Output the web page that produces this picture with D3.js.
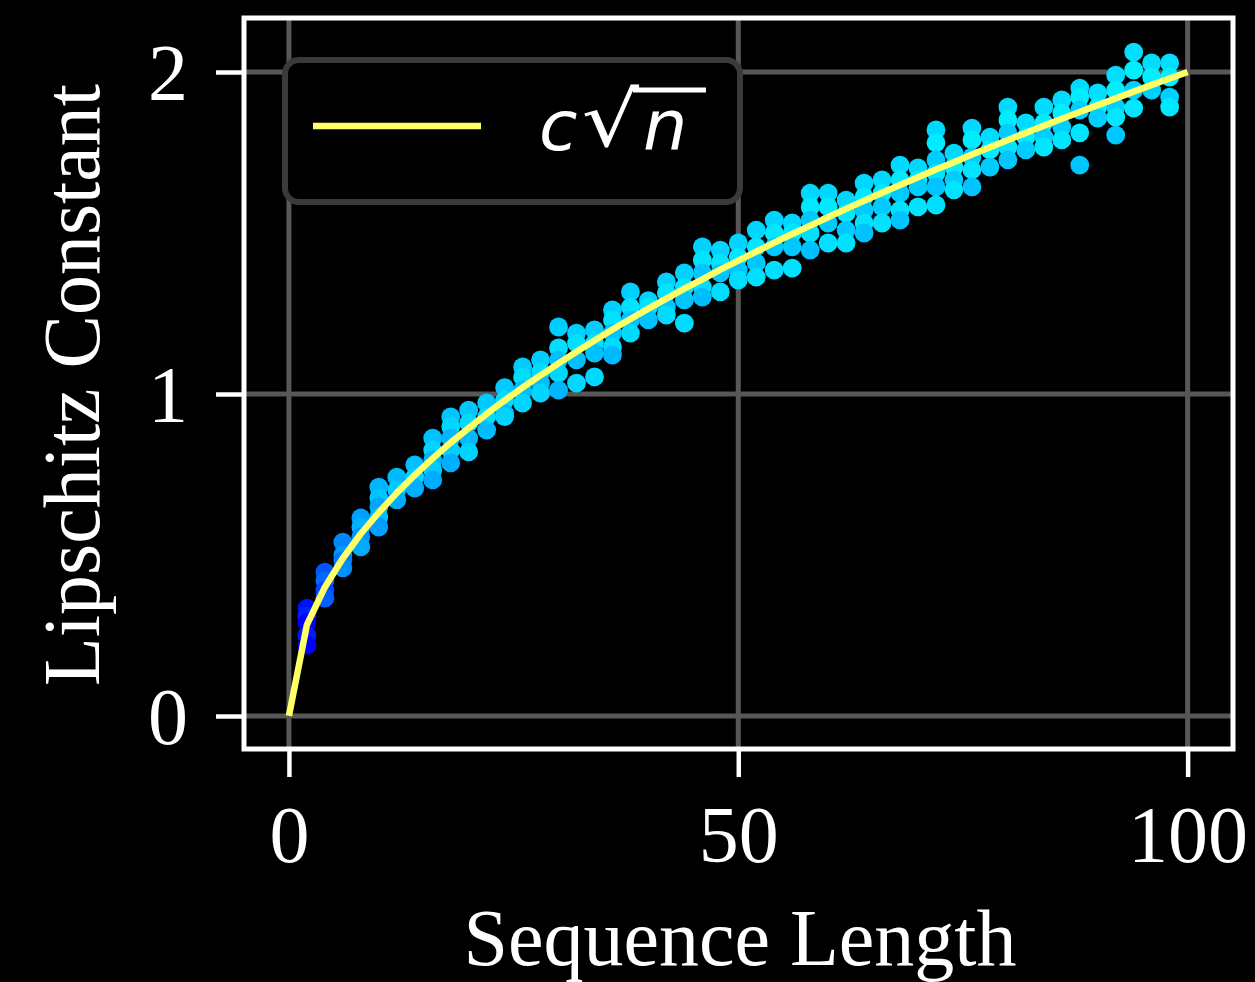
<!DOCTYPE html>
<html>
<head>
<meta charset="utf-8">
<script src="https://cdn.jsdelivr.net/npm/d3@7"></script>
<style>
  html, body { margin: 0; padding: 0; background: #000; }
  svg { display: block; }
</style>
</head>
<body>
<script>
// ---- data ----
const seqLengths = [2,4,6,8,10,12,14,16,18,20,22,24,26,28,30,32,34,36,38,40,42,44,46,48,50,
  52,54,56,58,60,62,64,66,68,70,72,74,76,78,80,82,84,86,88,90,92,94,96,98];
const lipschitz = [
  [0.335,0.31,0.29,0.25,0.22],
  [0.447,0.42,0.39,0.366],
  [0.54,0.50,0.484,0.46],
  [0.615,0.587,0.556,0.525],
  [0.711,0.677,0.649,0.618,0.587],
  [0.742,0.702,0.671],
  [0.78,0.742,0.708],
  [0.863,0.826,0.795,0.764,0.733],
  [0.929,0.898,0.863,0.826,0.786],
  [0.95,0.91,0.863,0.82],
  [0.972,0.929,0.888],
  [1.02,0.98,0.94,0.93],
  [1.084,1.053,1.012,0.972],
  [1.106,1.068,1.034,1.003],
  [1.208,1.143,1.106,1.065,1.012],
  [1.189,1.158,1.106,1.034],
  [1.199,1.158,1.127,1.053],
  [1.261,1.23,1.189,1.146,1.121],
  [1.317,1.27,1.23,1.189],
  [1.29,1.27,1.23],
  [1.348,1.314,1.27,1.245],
  [1.376,1.332,1.292,1.22],
  [1.457,1.416,1.376,1.332,1.301],
  [1.447,1.407,1.376,1.317],
  [1.469,1.425,1.385,1.354],
  [1.509,1.457,1.407,1.363],
  [1.54,1.5,1.457,1.385],
  [1.531,1.5,1.457,1.391],
  [1.624,1.581,1.54,1.5,1.447],
  [1.624,1.581,1.531,1.469],
  [1.602,1.562,1.509,1.469],
  [1.655,1.612,1.571,1.531,1.5],
  [1.665,1.624,1.581,1.531],
  [1.711,1.665,1.624,1.571,1.54],
  [1.702,1.665,1.643,1.581],
  [1.82,1.78,1.727,1.686,1.643,1.587],
  [1.748,1.705,1.665,1.634],
  [1.826,1.789,1.736,1.696,1.643],
  [1.798,1.758,1.705],
  [1.891,1.851,1.811,1.767,1.727],
  [1.842,1.798,1.758],
  [1.891,1.842,1.798,1.767],
  [1.913,1.873,1.829,1.789],
  [1.95,1.922,1.882,1.811,1.711],
  [1.935,1.891,1.857],
  [1.99,1.944,1.891,1.86,1.804],
  [2.062,2.006,1.944,1.888],
  [2.028,1.984,1.944],
  [2.028,1.984,1.922,1.891]
];
const fitN = [0,2,4,6,8,10,12,14,16,18,20,22,24,26,28,30,32,34,36,38,40,42,44,46,48,50,
  52,54,56,58,60,62,64,66,68,70,72,74,76,78,80,82,84,86,88,90,92,94,96,98,100];
const fitVals = [0,0.283,0.4,0.490,0.566,0.632,0.693,0.748,0.8,0.849,0.894,0.938,0.980,1.020,
  1.058,1.095,1.131,1.166,1.2,1.233,1.265,1.296,1.327,1.356,1.386,1.414,1.442,1.470,1.497,
  1.523,1.549,1.575,1.6,1.625,1.649,1.673,1.697,1.720,1.744,1.766,1.789,1.811,1.833,1.855,
  1.876,1.897,1.918,1.939,1.960,1.980,2.0];
const xTicks = [0, 50, 100];
const yTicks = [0, 1, 2];
const xLabel = "Sequence Length";
const yLabel = "Lipschitz Constant";

// ---- layout ----
const W = 1255, H = 982;
const frame = {left: 244, right: 1233, top: 18, bottom: 749};
const serif = "'Liberation Serif', 'Times New Roman', serif";

const svg = d3.select("body").append("svg").attr("width", W).attr("height", H)
  .style("background", "#000");

const x = d3.scaleLinear().domain([-5, 105.05]).range([frame.left, frame.right]);
const y = d3.scaleLinear().domain([-0.1025, 2.1677]).range([frame.bottom, frame.top]);

// grid
const grid = svg.append("g");
grid.selectAll("line.gx").data(xTicks).join("line")
  .attr("x1", d => x(d)).attr("x2", d => x(d))
  .attr("y1", frame.top).attr("y2", frame.bottom)
  .attr("stroke", "#575757").attr("stroke-width", 5);
grid.selectAll("line.gy").data(yTicks).join("line")
  .attr("y1", d => y(d)).attr("y2", d => y(d))
  .attr("x1", frame.left).attr("x2", frame.right)
  .attr("stroke", "#575757").attr("stroke-width", 5);

// points
const gScale = d3.scaleLog().domain([2, 4, 6, 10, 20, 50, 98])
  .range([15, 85, 135, 180, 200, 212, 222]);
const shade = [0, 18, -14, 10, -22, 6];
const pts = [];
seqLengths.forEach((n, i) => {
  lipschitz[i].forEach((v, j) => pts.push({n, v, j}));
});
svg.append("g").selectAll("circle").data(pts).join("circle")
  .attr("cx", d => x(d.n)).attr("cy", d => y(d.v)).attr("r", 9.4)
  .attr("fill", d => {
    const g = Math.max(0, Math.min(240, Math.round(gScale(d.n) + shade[d.j % 6])));
    return d3.rgb(0, g, 255).formatHex();
  });

// fit curve
const line = d3.line().x((d, i) => x(fitN[i])).y(d => y(d));
svg.append("path").datum(fitVals).attr("d", line)
  .attr("fill", "none").attr("stroke", "#ffff66").attr("stroke-width", 6.5)
  .attr("stroke-linejoin", "round");

// frame
svg.append("rect").attr("x", frame.left).attr("y", frame.top)
  .attr("width", frame.right - frame.left).attr("height", frame.bottom - frame.top)
  .attr("fill", "none").attr("stroke", "#fff").attr("stroke-width", 5);

// axes
const xAxis = d3.axisBottom(x).tickValues(xTicks).tickSize(28).tickPadding(10).tickFormat(d3.format("d"));
const gx = svg.append("g").attr("transform", `translate(0,${frame.bottom})`).call(xAxis);
gx.select(".domain").remove();
gx.selectAll(".tick line").attr("stroke", "#fff").attr("stroke-width", 4.5);
gx.selectAll(".tick text").attr("fill", "#fff").attr("font-family", serif)
  .attr("font-size", 80).attr("dy", null).attr("y", 113);

const yAxis = d3.axisLeft(y).tickValues(yTicks).tickSize(28).tickPadding(10).tickFormat(d3.format("d"));
const gy = svg.append("g").attr("transform", `translate(${frame.left},0)`).call(yAxis);
gy.select(".domain").remove();
gy.selectAll(".tick line").attr("stroke", "#fff").attr("stroke-width", 4.5);
gy.selectAll(".tick text").attr("fill", "#fff").attr("font-family", serif)
  .attr("font-size", 80).attr("dy", null).attr("x", -56).attr("y", 28);

// labels
svg.append("text").attr("x", 740).attr("y", 965).attr("text-anchor", "middle")
  .attr("fill", "#fff").attr("font-family", serif).attr("font-size", 80).text(xLabel);
svg.append("text").attr("transform", "translate(99,385) rotate(-90)")
  .attr("text-anchor", "middle").attr("fill", "#fff").attr("font-family", serif)
  .attr("font-size", 80).text(yLabel);

// legend
const lg = svg.append("g");
lg.append("rect").attr("x", 285).attr("y", 60).attr("width", 455).attr("height", 142)
  .attr("rx", 14).attr("fill", "#000").attr("stroke", "#3a3a3a").attr("stroke-width", 6);
lg.append("line").attr("x1", 313).attr("x2", 481).attr("y1", 126).attr("y2", 126)
  .attr("stroke", "#ffff66").attr("stroke-width", 6.5);
const sans = "'DejaVu Sans', sans-serif";

// fit a glyph's ink box into a target box
function fitText(str, italic, box) {
  const t = lg.append("text").attr("x", 0).attr("y", 0).attr("fill", "#fff")
    .attr("font-family", sans).attr("font-size", 100)
    .attr("font-style", italic ? "italic" : "normal").text(str);
  const b = t.node().getBBox();
  // approximate ink box inside the em box (glyph-specific ratios)
  const ink = box.ink(b);
  const sx = (box.x1 - box.x0) / ink.w, sy = (box.y1 - box.y0) / ink.h;
  t.attr("transform", `translate(${box.x0 - ink.x * sx},${box.y0 - ink.y * sy}) scale(${sx},${sy})`);
  return t;
}
// c and n: italic at uniform size
lg.append("text").attr("x", 539).attr("y", 150).attr("fill", "#fff")
  .attr("font-family", sans).attr("font-style", "italic").attr("font-size", 70).text("c");
lg.append("text").attr("x", 643).attr("y", 150).attr("fill", "#fff")
  .attr("font-family", sans).attr("font-style", "italic").attr("font-size", 70).text("n");
// radical: stretched to join the overline
(function() {
  const t = lg.append("text").attr("x", 0).attr("y", 0).attr("fill", "#fff")
    .attr("font-family", sans).attr("font-size", 100).text("\u221A");
  const b = t.node().getBBox();
  // DejaVu radical ink ~ from -0.77em (top) to +0.10em below baseline; use bbox width
  const inkTop = -77, inkBot = 10, inkW = b.width * 0.92, inkX = b.x + b.width * 0.04;
  const sx = (637 - 584) / inkW, sy = (154 - 88) / (inkBot - inkTop);
  t.attr("transform", `translate(${584 - inkX * sx},${88 - inkTop * sy}) scale(${sx},${sy})`);
})();
lg.append("line").attr("x1", 633).attr("x2", 706).attr("y1", 90).attr("y2", 90)
  .attr("stroke", "#fff").attr("stroke-width", 5);
</script>
</body>
</html>
